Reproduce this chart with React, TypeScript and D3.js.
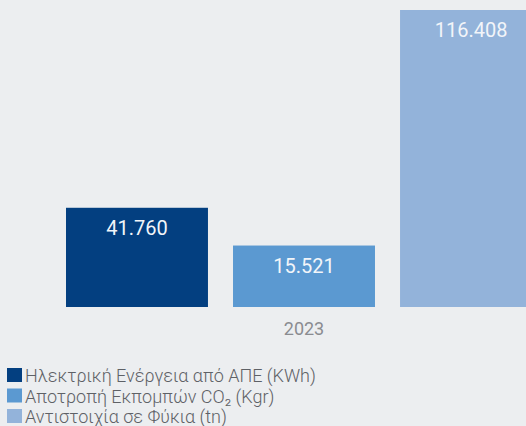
import React from "react";
import * as d3 from "d3";

const categories = ["2023"];
const seriesNames = [
  "Ηλεκτρική Ενέργεια από ΑΠΕ (KWh)",
  "Αποτροπή Εκπομπών CO₂ (Kgr)",
  "Αντιστοιχία σε Φύκια (tn)",
];
const seriesValues = [41760, 15521, 116408];
const valueLabels = ["41.760", "15.521", "116.408"];
// each series is in its own unit, so each has its own value axis
const seriesAxisMax = [125000, 75000, 116408];
const seriesColors = ["#033f80", "#5b99d1", "#93b3da"];

const W = 526;
const H = 426;

export default function App() {
  const baseline = 307;
  const plotTop = 10;
  const x = d3
    .scaleBand<number>()
    .domain(seriesValues.map((_, i) => i))
    .range([66, 542])
    .paddingInner(0.15)
    .paddingOuter(0);
  const yScales = seriesAxisMax.map((m) =>
    d3.scaleLinear().domain([0, m]).range([baseline, plotTop])
  );
  const groupCenter = (x.range()[0] + x.range()[1]) / 2;
  const font = "Roboto, 'Noto Sans', sans-serif";

  return (
    <svg
      width={W}
      height={H}
      style={{ position: "absolute", left: 0, top: 0, display: "block" }}
    >
      <rect x={0} y={0} width={W} height={H} fill="#eceef0" />
      {seriesValues.map((v, i) => {
        const y = yScales[i](v);
        const bx = x(i)!;
        return (
          <g key={i}>
            <rect
              x={bx}
              y={y}
              width={x.bandwidth()}
              height={baseline - y}
              fill={seriesColors[i]}
            />
            <text
              x={bx + x.bandwidth() / 2}
              y={y + 27}
              textAnchor="middle"
              fill="#f2f5f9"
              fontFamily={font}
              fontWeight={400}
              fontSize={20}
            >
              {valueLabels[i]}
            </text>
          </g>
        );
      })}
      {categories.map((c) => (
        <text
          key={c}
          x={groupCenter}
          y={335}
          textAnchor="middle"
          fill="#8a8c90"
          fontFamily={font}
          fontSize={18}
        >
          {c}
        </text>
      ))}
      {seriesNames.map((n, i) => {
        const by = 382 + i * 20.5;
        return (
          <g key={n}>
            <rect x={7} y={by - 14} width={15} height={14} fill={seriesColors[i]} />
            <text
              x={25}
              y={by}
              fill="#5e6166"
              fontFamily={font}
              fontWeight={300}
              fontSize={18}
            >
              {n}
            </text>
          </g>
        );
      })}
    </svg>
  );
}
